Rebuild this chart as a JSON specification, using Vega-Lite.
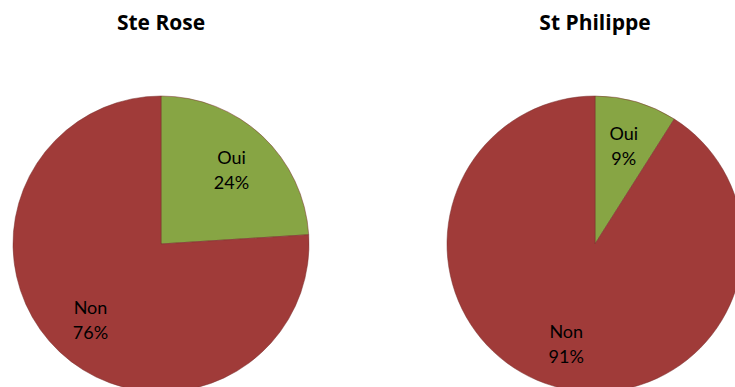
{
  "$schema": "https://vega.github.io/schema/vega-lite/v6.json",
  "width": 735,
  "height": 387,
  "autosize": {"type": "none"},
  "padding": 0,
  "background": "#ffffff",
  "config": {"view": {"stroke": null}},
  "datasets": {
    "slices": [
      {"site": "Ste Rose", "cat": "Oui", "value": 24},
      {"site": "Ste Rose", "cat": "Non", "value": 76},
      {"site": "St Philippe", "cat": "Oui", "value": 9},
      {"site": "St Philippe", "cat": "Non", "value": 91}
    ],
    "titles": [
      {"site": "Ste Rose"},
      {"site": "St Philippe"}
    ]
  },
  "layer": [
    {
      "data": {"name": "slices"},
      "transform": [
        {"stack": "value", "groupby": ["site"], "sort": [{"field": "cat", "order": "descending"}], "as": ["t0", "t1"]}
      ],
      "mark": {"type": "arc", "outerRadius": 148, "stroke": "#7a2f2d", "strokeWidth": 1, "strokeOpacity": 0.5},
      "encoding": {
        "x": {"field": "site", "type": "nominal", "scale": {"type": "point", "domain": ["Ste Rose", "St Philippe"], "range": [161, 595], "padding": 0}, "axis": null},
        "y": {"datum": "pie", "type": "nominal", "scale": {"type": "point", "domain": ["title", "pie"], "range": [24, 244], "padding": 0}, "axis": null},
        "theta": {"field": "t0", "type": "quantitative", "scale": {"domain": [0, 100], "range": [0, 6.283185307179586]}},
        "theta2": {"field": "t1"},
        "color": {"field": "cat", "type": "nominal", "scale": {"domain": ["Oui", "Non"], "range": ["#87a544", "#a03b39"]}, "legend": null}
      }
    },
    {
      "data": {"name": "slices"},
      "transform": [
        {"stack": "value", "groupby": ["site"], "sort": [{"field": "cat", "order": "descending"}], "as": ["t0", "t1"]},
        {"calculate": "(datum.t0 + datum.t1) / 2", "as": "tm"},
        {"calculate": "datum.cat + '\\n' + datum.value + '%'", "as": "label"}
      ],
      "mark": {"type": "text", "radius": 103, "dy": -10, "font": "Lato", "fontSize": 18, "lineHeight": 25, "lineBreak": "\n", "color": "#000000", "align": "center", "baseline": "middle"},
      "encoding": {
        "x": {"field": "site", "type": "nominal"},
        "y": {"datum": "pie", "type": "nominal"},
        "theta": {"field": "tm", "type": "quantitative"},
        "text": {"field": "label"}
      }
    },
    {
      "data": {"name": "titles"},
      "mark": {"type": "text", "font": "Open Sans", "fontSize": 21, "fontWeight": "bold", "color": "#000000", "align": "center", "baseline": "middle"},
      "encoding": {
        "x": {"field": "site", "type": "nominal"},
        "y": {"datum": "title", "type": "nominal"},
        "text": {"field": "site"}
      }
    }
  ]
}
